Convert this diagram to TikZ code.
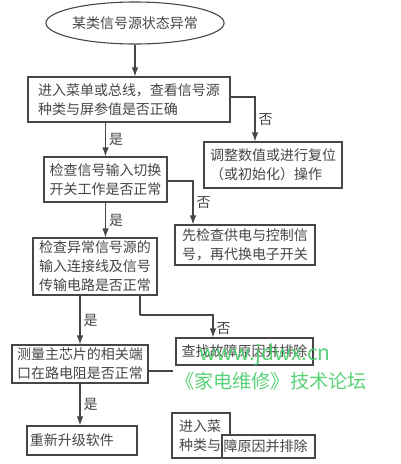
\documentclass[tikz,border=0pt]{standalone}
\usepackage{fontspec}
\setmainfont{Noto Sans CJK SC}
\usetikzlibrary{shapes.geometric,arrows.meta}

\definecolor{ink}{RGB}{70,70,70}
\definecolor{markgreen}{RGB}{70,205,105}

\begin{document}
\begin{tikzpicture}[
    x=1pt, y=-1pt,
    every node/.style={font=\fontsize{14}{19}\selectfont, text=ink},
    startnode/.style={ellipse, draw=ink, line width=1.1pt, minimum width=164pt, minimum height=42pt, inner sep=0pt},
    box/.style={rectangle, draw=ink, line width=1.1pt, fill=white, align=left, inner sep=2pt},
    arrow/.style={-{Latex[length=9pt,width=6.5pt]}, draw=ink, line width=1.1pt},
    line/.style={draw=ink, line width=1.1pt},
    answer/.style={right, pos=0.5, inner sep=3pt},
    watermark/.style={text=markgreen, opacity=0.9, inner sep=0pt}
]
    \useasboundingbox (0,0) rectangle (400,464);

% -------------------------
% Start
% -------------------------
    \node[startnode] (start) at (135,23) {某类信号源状态异常};

% -------------------------
% Checks - left column
% -------------------------
    \node[box, minimum width=202pt, minimum height=45pt] (q1) at (129,99.5)
        {进入菜单或总线，查看信号源\\种类与屏参值是否正确};
    \node[box, minimum width=123pt, minimum height=45pt] (q2) at (105.5,179.5)
        {检查信号输入切换\\开关工作是否正常};
    \node[box, minimum width=124pt, minimum height=57pt] (q3) at (95,266.5)
        {检查异常信号源的\\输入连接线及信号\\传输电路是否正常};
    \node[box, minimum width=136pt, minimum height=38pt] (q4) at (80,364)
        {测量主芯片的相关端\\口在路电阻是否正常};
    \node[box, minimum width=110pt, minimum height=29pt] (upgrade) at (82,440.5)
        {重新升级软件\hspace{20pt}};

% -------------------------
% Remedies - right column
% -------------------------
    \node[box, minimum width=138pt, minimum height=46pt] (fix1) at (273,165)
        {调整数值或进行复位\\（或初始化）操作};
    \node[box, minimum width=140pt, minimum height=40pt] (fix2) at (245,245)
        {先检查供电与控制信\\号，再代换电子开关};
    \node[box, minimum width=137pt, minimum height=27pt] (fix3) at (244.5,351.5)
        {查找故障原因并排除};

    % overlapping fragments at the bottom
    \node[box, minimum width=58pt, minimum height=45pt, text width=44pt] (fragA) at (201,435.5)
        {进入菜\\种类与};
    \node[box, minimum width=93pt, minimum height=23pt, inner sep=0pt] (fragB) at (268.5,446.5)
        {障原因并排除\hspace{6pt}};

% -------------------------
% Arrows
% -------------------------
    \draw[arrow] (start.south) -- (start.south |- q1.north);

    \draw[arrow] (q2.north |- q1.south) -- node[answer] {是} (q2.north);
    \draw[arrow] ([yshift=2.5pt]q1.east) -| node[answer, pos=0.75] {否} ([xshift=-18pt]fix1.north);

    \draw[arrow] (q2.south) -- node[answer] {是} (q2.south |- q3.north);
    \draw[arrow] ([yshift=-1.5pt]q2.east) -| node[answer, pos=0.75] {否} ([xshift=-52pt]fix2.north);

    \draw[arrow] (q4.north |- q3.south) -- node[answer] {是} (q4.north);
    \coordinate (bend3) at (140,315);
    \draw[line] ([xshift=45pt]q3.south) -- (bend3);
    \draw[arrow] (bend3) -| node[answer, pos=0.8] {否} ([xshift=-31.5pt]fix3.north);

    \draw[arrow] (q4.south) -- node[answer] {是} (q4.south |- upgrade.north);

    % branch hidden under the watermark
    \coordinate (stub) at (173,371);
    \draw[line] (q4.east |- stub) -- (stub);

% -------------------------
% Watermark
% -------------------------
    \node[watermark, font=\fontsize{21}{21}\selectfont] (site) at (265,355) {www.jdwx.cn};
    \node[watermark, font=\fontsize{19.2}{19.2}\selectfont] (forum) at (271,381) {《家电维修》技术论坛};
\end{tikzpicture}
\end{document}
